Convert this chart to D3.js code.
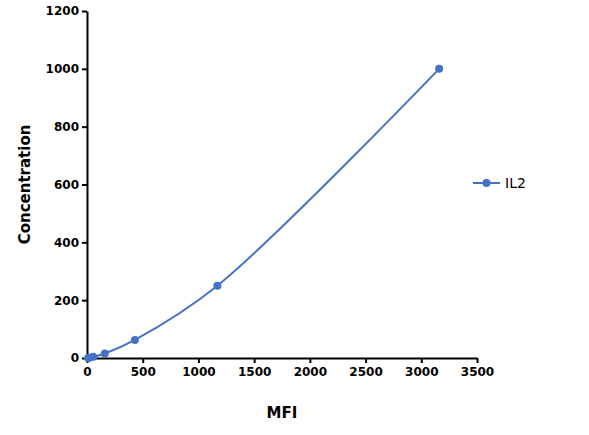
<!DOCTYPE html>
<html>
<head>
<meta charset="utf-8">
<script src="https://cdn.jsdelivr.net/npm/d3@7"></script>
<style>
  body { margin: 0; background: #fff; }
  text { font-family: Tahoma, "DejaVu Sans", Verdana, sans-serif; }
</style>
</head>
<body>
<div id="chart"></div>
<script>
// Standard curve points
var mfi = [10, 22, 56, 160, 430, 1170, 3160];
var conc = [0, 1, 3.9, 15.6, 62.5, 250, 1000];
var seriesName = "IL2";
var xTicks = [0, 500, 1000, 1500, 2000, 2500, 3000, 3500];
var yTicks = [0, 200, 400, 600, 800, 1000, 1200];

var W = 589, H = 435;
var margin = { top: 11, right: 112, bottom: 77, left: 87 };
var width = W - margin.left - margin.right;
var height = H - margin.top - margin.bottom;
var blue = "#4472c4";

var svg = d3.select("#chart")
    .append("svg")
    .attr("width", W)
    .attr("height", H);

var g = svg.append("g")
    .attr("transform", "translate(" + margin.left + "," + margin.top + ")");

var x = d3.scaleLinear().domain([0, 3500]).range([0, width]);
var y = d3.scaleLinear().domain([0, 1200]).range([height, 0]);

var data = mfi.map(function (d, i) { return { x: d, y: conc[i] }; });

// Axes
var xAxis = g.append("g")
    .attr("transform", "translate(0," + height + ")")
    .call(d3.axisBottom(x).tickValues(xTicks).tickFormat(d3.format("d"))
        .tickSize(5).tickPadding(4).tickSizeOuter(0));

var yAxis = g.append("g")
    .call(d3.axisLeft(y).tickValues(yTicks).tickFormat(d3.format("d"))
        .tickSize(5).tickPadding(3).tickSizeOuter(0));

[xAxis, yAxis].forEach(function (a) {
    a.select(".domain").attr("stroke", "#000").attr("stroke-width", 2);
    a.selectAll(".tick line").attr("stroke", "#000").attr("stroke-width", 2);
    a.selectAll("text")
        .attr("fill", "#000")
        .style("font-size", "12px")
        .style("font-weight", "bold");
});

// Curve
var line = d3.line()
    .x(function (d) { return x(d.x); })
    .y(function (d) { return y(d.y); })
    .curve(d3.curveCatmullRom.alpha(0.5));

g.append("path")
    .datum(data)
    .attr("d", line)
    .attr("fill", "none")
    .attr("stroke", blue)
    .attr("stroke-width", 2);

g.selectAll(".pt")
    .data(data)
    .enter().append("circle")
    .attr("class", "pt")
    .attr("cx", function (d) { return x(d.x); })
    .attr("cy", function (d) { return y(d.y); })
    .attr("r", 4)
    .attr("fill", blue);

// Axis titles
svg.append("text")
    .attr("x", margin.left + x(1750))
    .attr("y", 418)
    .attr("text-anchor", "middle")
    .style("font-size", "15px")
    .style("font-weight", "bold")
    .text("MFI");

svg.append("text")
    .attr("transform", "translate(30," + (margin.top + height / 2) + ") rotate(-90)")
    .attr("text-anchor", "middle")
    .style("font-size", "15px")
    .style("font-weight", "bold")
    .text("Concentration");

// Legend
var lg = svg.append("g").attr("transform", "translate(473,183)");
lg.append("line")
    .attr("x1", 0).attr("x2", 27)
    .attr("stroke", blue).attr("stroke-width", 2);
lg.append("circle").attr("cx", 13.5).attr("r", 4).attr("fill", blue);
lg.append("text")
    .attr("x", 32).attr("y", 5)
    .style("font-size", "14px")
    .text(seriesName);
</script>
</body>
</html>
